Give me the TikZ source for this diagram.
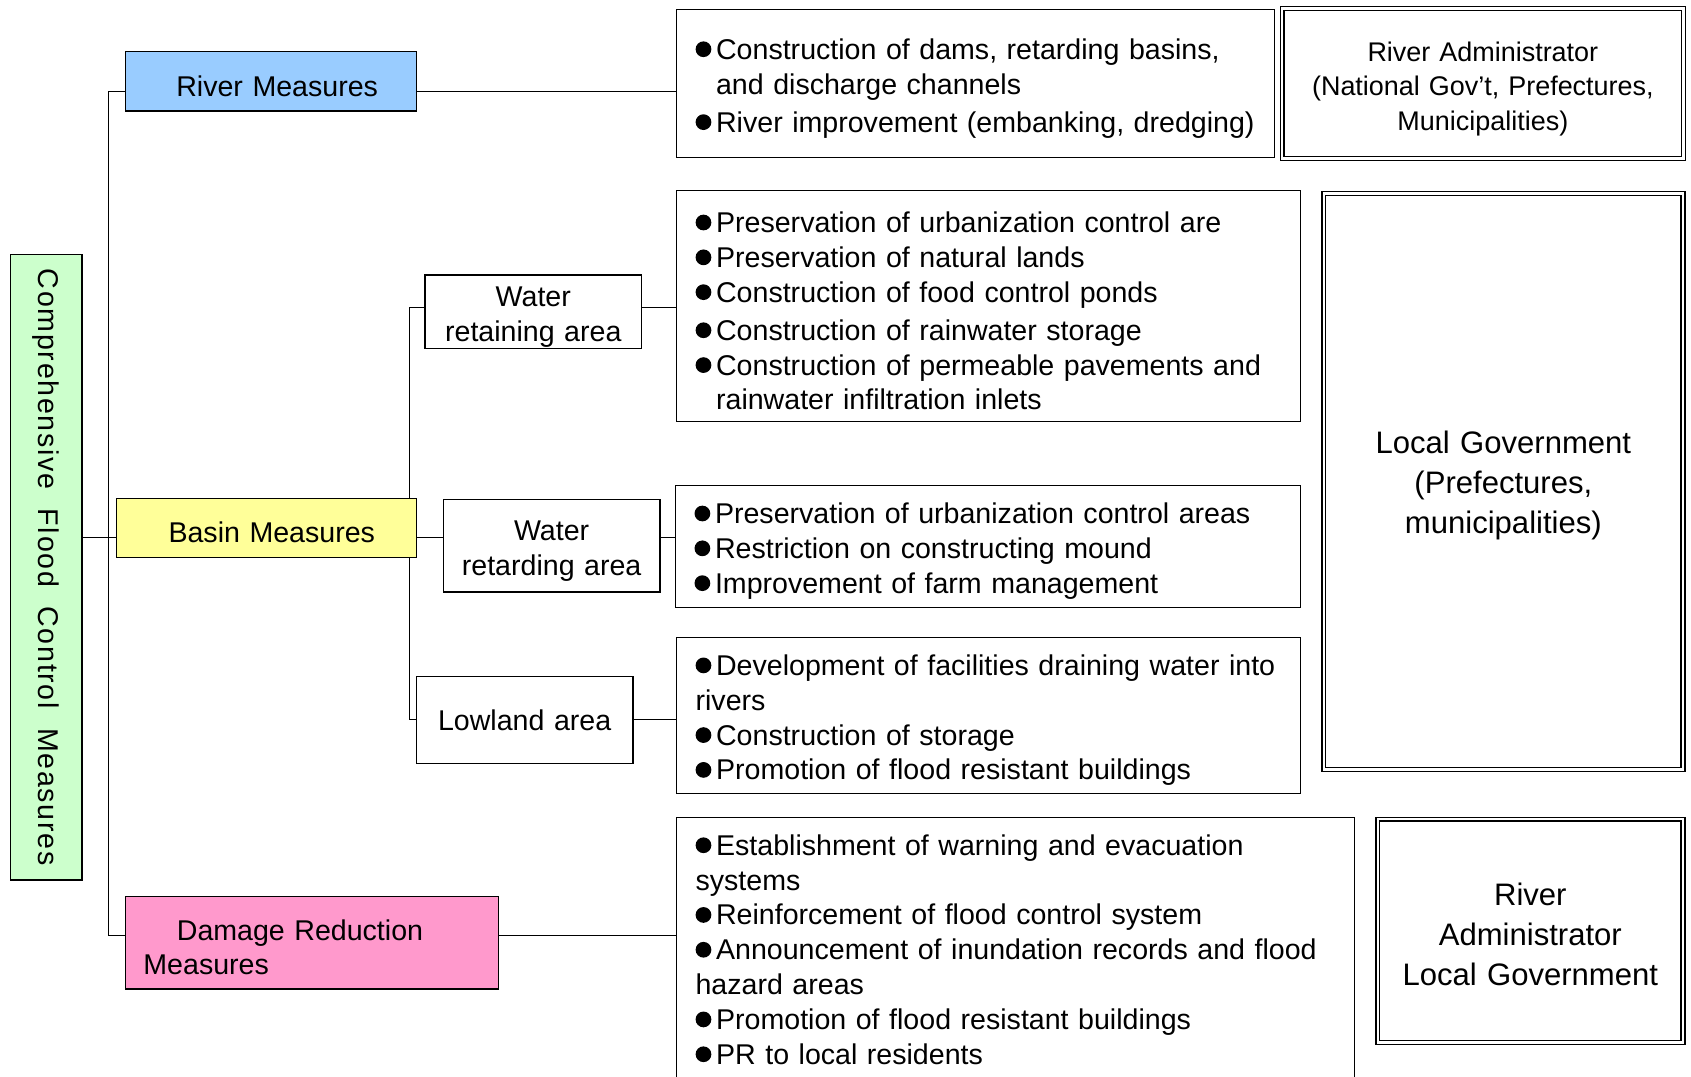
\documentclass[tikz,border=0pt]{standalone}
\usepackage{fontspec}
\setmainfont{Liberation Sans}
\newfontfamily\spacedfont[LetterSpace=6]{Liberation Sans}
\usetikzlibrary{backgrounds}

\definecolor{cfgreen}{HTML}{CCFFCC}
\definecolor{rivblue}{HTML}{99CCFF}
\definecolor{basyellow}{HTML}{FFFF99}
\definecolor{dampink}{HTML}{FF99CC}

\newcommand{\bu}{\makebox[19pt][l]{\raisebox{2pt}{\tikz\fill (0,0) circle[radius=7.3pt];}}}

\begin{document}
\begin{tikzpicture}[x=1pt,y=-1pt,line width=1.1pt,
  every node/.style={draw,inner sep=0pt,align=center,font=\fontsize{26.5}{32}\selectfont},
  lowered/.style={execute at begin node={\rule{0pt}{28pt}}},
  listbox/.style={align=left,inner xsep=18pt,font=\fontsize{26.5}{32.3}\selectfont},
  agencybox/.style={lowered,double,double distance=2.2pt,line width=1.3pt}]

  \useasboundingbox (0,0) rectangle (1568,998);
  \clip (0,0) rectangle (1568,998);

  % Specification of nodes (position, size)
  \node[fill=cfgreen,rotate=-90,minimum width=580pt,minimum height=66pt,
    font=\spacedfont\fontsize{26.5}{32}\selectfont] (cf) at (43,526)
    {Comprehensive\ \ Flood\ \ Control\ \ Measures};

  \node[lowered,fill=rivblue,text width=270pt,minimum height=55pt] (rm) at (251,75.5) {\hspace*{12pt}River Measures};
  \node[lowered,fill=basyellow,text width=278pt,minimum height=55pt] (bm) at (247,489.5) {\hspace*{10pt}Basin Measures};
  \node[lowered,fill=dampink,align=left,text width=312pt,inner xsep=17pt,minimum height=86pt] (dr) at (289,874)
    {\hspace*{31pt}Damage Reduction\\Measures};

  \node[lowered,text width=201pt,minimum height=68pt] (wr) at (494.5,289) {Water\\retaining area};
  \node[lowered,text width=201pt,minimum height=86pt] (wd) at (511.5,506) {Water\\retarding area};
  \node[text width=201pt,minimum height=81pt] (lw) at (486.5,667.5) {Lowland area};

  \node[listbox,lowered,text width=519pt,minimum height=137pt] (b1) at (904.5,77.5)
    {\bu Construction of dams, retarding basins,\\
     \hspace*{19pt}and discharge channels\\[3pt]
     \mbox{\bu River improvement (embanking, dredging)}};
  \node[listbox,lowered,text width=543pt,minimum height=214pt] (b2) at (916.5,284)
    {\bu Preservation of urbanization control are\\
     \bu Preservation of natural lands\\
     \bu Construction of food control ponds\\[3pt]
     \bu Construction of rainwater storage\\
     \bu Construction of permeable pavements and\\
     \hspace*{19pt}rainwater infiltration inlets};
  \node[listbox,lowered,text width=544pt,minimum height=113pt] (b3) at (916,506.5)
    {\bu Preservation of urbanization control areas\\
     \bu Restriction on constructing mound\\
     \bu Improvement of farm management};
  \node[listbox,lowered,text width=543pt,minimum height=145pt] (b4) at (916.5,663.5)
    {\bu Development of facilities draining water into\\
     rivers\\
     \bu Construction of storage\\
     \bu Promotion of flood resistant buildings};
  \node[listbox,text width=593pt,minimum height=245pt] (b5) at (941.5,880.5)
    {\bu Establishment of warning and evacuation\\
     systems\\
     \bu Reinforcement of flood control system\\
     \bu Announcement of inundation records and flood\\
     hazard areas\\
     \bu Promotion of flood resistant buildings\\
     \bu PR to local residents};

  \node[agencybox,text width=372pt,minimum height=139pt,font=\fontsize{25}{32}\selectfont] (ra) at (1375,77.5)
    {River Administrator\\(National Gov’t, Prefectures,\\Municipalities)};
  \node[agencybox,text width=333pt,minimum height=534pt,font=\fontsize{28.8}{37}\selectfont] (lg) at (1394,446.5)
    {Local Government\\(Prefectures,\\municipalities)};
  \node[agencybox,text width=283pt,minimum height=207pt,font=\fontsize{28.8}{37}\selectfont] (rl) at (1419,863)
    {River\\Administrator\\Local Government};

  % rows and columns of the connectors
  \coordinate (yR) at (0,85);
  \coordinate (yW) at (0,285);
  \coordinate (yB) at (0,498);
  \coordinate (yL) at (0,667);
  \coordinate (yD) at (0,867);
  \coordinate (tk) at (100,0);
  \coordinate (sb) at (379,0);

  \begin{scope}[on background layer]
    \draw (rm.west |- yR) -- (tk |- yR) -- (tk |- yD) -- (dr.west |- yD);
    \draw (cf.north |- yB) -- (bm.west |- yB);
    \draw (bm.east |- yB) -- (wd.west |- yB);
    \draw (wr.west |- yW) -- (sb |- yW) -- (sb |- yL) -- (lw.west |- yL);
    \draw (rm.east |- yR) -- (b1.west |- yR);
    \draw (wr.east |- yW) -- (b2.west |- yW);
    \draw (wd.east |- yB) -- (b3.west |- yB);
    \draw (lw.east |- yL) -- (b4.west |- yL);
    \draw (dr.east |- yD) -- (b5.west |- yD);
  \end{scope}

\end{tikzpicture}
\end{document}
